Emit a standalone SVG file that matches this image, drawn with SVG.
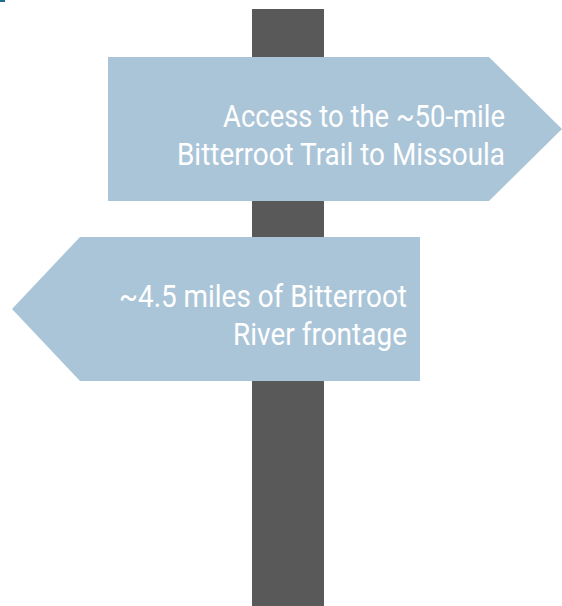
<svg xmlns="http://www.w3.org/2000/svg" width="562" height="606" viewBox="0 0 562 606">
<style>
.sign{fill:#ABC5D8}
.post{fill:#595959}
.lbl{font-family:Roboto,"Liberation Sans",sans-serif;font-size:31px;fill:#FFFFFF;text-anchor:end}
</style>
<rect x="0" y="0" width="562" height="606" fill="#FFFFFF"/>
<rect x="0" y="0" width="5" height="2" fill="#1F6E8C"/>
<g id="post"><rect class="post" x="252" y="9" width="72" height="597"/></g>
<g id="sign-right">
<polygon class="sign" points="108,57 489,57 562,129 489,201 108,201"/>
<text class="lbl" x="505" y="126.5" textLength="282" lengthAdjust="spacingAndGlyphs">Access to the ~50-mile</text>
<text class="lbl" x="505" y="164.5" textLength="328" lengthAdjust="spacingAndGlyphs">Bitterroot Trail to Missoula</text>
</g>
<g id="sign-left">
<polygon class="sign" points="80,237 420,237 420,381 80,381 12,309"/>
<text class="lbl" x="407" y="307" textLength="288" lengthAdjust="spacingAndGlyphs">~4.5 miles of Bitterroot</text>
<text class="lbl" x="407" y="345" textLength="174" lengthAdjust="spacingAndGlyphs">River frontage</text>
</g>
<g id="connectors"></g>
</svg>
